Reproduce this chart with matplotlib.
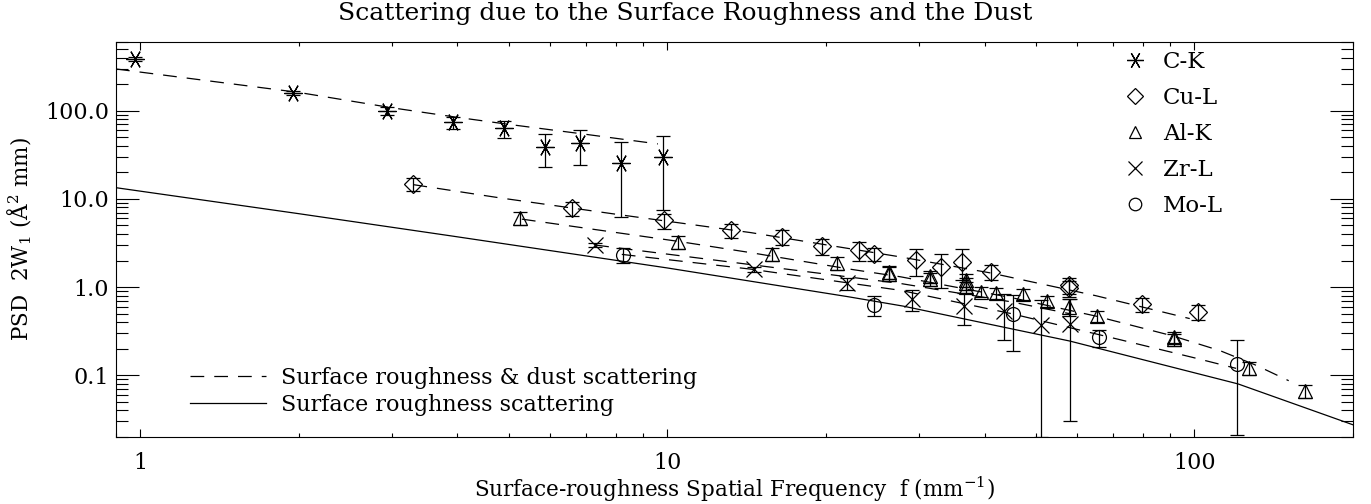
import matplotlib
matplotlib.use('Agg')
import matplotlib.pyplot as plt
from matplotlib.lines import Line2D
from matplotlib.ticker import FixedLocator, FixedFormatter, LogLocator, NullFormatter

plt.rcParams['font.family'] = 'DejaVu Serif'
plt.rcParams['mathtext.fontset'] = 'dejavuserif'

# measured PSD points for each X-ray line: f (mm^-1), PSD (A^2 mm), 1-sigma
ck_f = [0.98, 1.95, 2.94, 3.93, 4.9, 5.87, 6.84, 8.17, 9.8]
ck_psd = [385, 159, 100, 73.6, 63, 38.4, 42.5, 25.3, 29.5]
ck_err = [20, 10, 10, 12, 14, 15.5, 18, 19, 22]

cu_f = [3.3, 6.6, 9.87, 13.2, 16.5, 19.7, 23.1, 24.7, 29.7, 33.0, 36.2, 41.2,
        57.8, 57.8, 79.5, 101.6]
cu_psd = [14.7, 7.8, 5.7, 4.45, 3.7, 2.93, 2.62, 2.36, 2.03, 1.69, 1.95, 1.5,
          0.97, 1.05, 0.64, 0.52]
cu_err = [2.5, 1.4, 1.1, 0.8, 0.7, 0.6, 0.65, 0.4, 0.68, 0.7, 0.75, 0.28,
          0.2, 0.22, 0.12, 0.1]

al_f = [5.26, 10.5, 15.8, 21.0, 26.3, 26.3, 31.5, 31.5, 36.8, 36.8, 36.8, 39.4,
        42.0, 47.3, 52.5, 57.8, 65.5, 91.4, 91.4, 127, 162]
al_psd = [6.1, 3.28, 2.4, 1.88, 1.42, 1.5, 1.23, 1.32, 1.0, 1.1, 1.2, 0.89,
          0.85, 0.83, 0.70, 0.60, 0.47, 0.257, 0.27, 0.122, 0.0666]
al_err = [1.0, 0.55, 0.4, 0.3, 0.25, 0.25, 0.2, 0.2, 0.15, 0.18, 0.2, 0.12,
          0.12, 0.12, 0.1, 0.13, 0.07, 0.04, 0.04, 0.02, 0.011]

zr_f = [7.3, 14.6, 21.9, 29.1, 36.5, 43.6, 51.2, 58.2]
zr_psd = [2.99, 1.6, 1.1, 0.73, 0.61, 0.54, 0.37, 0.38]
zr_err = [0.15, 0.1, 0.18, 0.2, 0.24, 0.29, 0.35, 0.35]

mo_f = [8.25, 24.7, 45.3, 65.8, 120.5]
mo_psd = [2.32, 0.63, 0.50, 0.27, 0.136]
mo_err = [0.43, 0.16, 0.31, 0.06, 0.115]

# roughness + dust model for each line
ck_fit_f = [0.9, 2.0, 3.0, 4.0, 5.0, 7.0, 9.6]
ck_fit = [297, 161, 108, 84, 70, 54, 42]
cu_fit_f = [3.3, 4.8, 8.0, 14.4, 27.7, 41.0, 65.0, 98.0]
cu_fit = [14.5, 10.3, 6.7, 4.15, 2.2, 1.45, 0.8, 0.44]
al_fit_f = [5.3, 10.5, 14.4, 22.2, 27.7, 45.0, 65.0, 91.0, 112.0, 131.0, 151.0]
al_fit = [5.9, 3.3, 2.46, 1.6, 1.31, 0.76, 0.47, 0.28, 0.19, 0.13, 0.087]
zr_fit_f = [7.3, 14.4, 27.7, 45.0, 58.0]
zr_fit = [3.0, 1.8, 1.1, 0.68, 0.5]
mo_fit_f = [8.2, 14.4, 27.7, 45.0, 73.0, 100.0, 120.0]
mo_fit = [2.35, 1.6, 0.92, 0.5, 0.25, 0.158, 0.12]

# roughness-only model
rough_f = [0.9, 2.0, 3.9, 10.0, 22.0, 28.0, 58.0, 121.0, 200.0]
rough_psd = [13.4, 6.8, 3.8, 1.65, 0.78, 0.61, 0.245, 0.08, 0.0275]

DASH = (0, (11, 8))

fig = plt.figure(figsize=(13.71, 5.04), dpi=100)
ax = fig.add_axes([0.0846, 0.1329, 0.9023, 0.7837])
ax.set_xscale('log')
ax.set_yscale('log')
ax.set_xlim(0.9, 200)
ax.set_ylim(0.02, 600)

for ff, pp in [(ck_fit_f, ck_fit), (cu_fit_f, cu_fit), (al_fit_f, al_fit),
               (zr_fit_f, zr_fit), (mo_fit_f, mo_fit)]:
    ax.plot(ff, pp, color='k', lw=0.9, ls=DASH)
ax.plot(rough_f, rough_psd, color='k', lw=0.9)

series = [
    ('C-K', ck_f, ck_psd, ck_err, (6, 2, 30), 13),
    ('Cu-L', cu_f, cu_psd, cu_err, 'D', 9),
    ('Al-K', al_f, al_psd, al_err, '^', 10),
    ('Zr-L', zr_f, zr_psd, zr_err, 'x', 11),
    ('Mo-L', mo_f, mo_psd, mo_err, 'o', 10),
]
handles = []
for label, f, p, e, m, ms in series:
    ax.errorbar(f, p, yerr=e, fmt='none', ecolor='k', elinewidth=0.9,
                capsize=5, capthick=0.9)
    ax.plot(f, p, ls='none', marker=m, ms=ms, mfc='none', mec='k', mew=0.9)
    handles.append(Line2D([], [], ls='none', marker=m, ms=ms - 1,
                          mfc='none', mec='k', mew=0.9, label=label))

leg1 = ax.legend(handles=handles, loc='upper left', bbox_to_anchor=(0.8145, 0.977),
                 frameon=False, fontsize=16.5, handlelength=1.0,
                 handletextpad=0.72, labelspacing=0.61, borderpad=0,
                 borderaxespad=0)
ax.add_artist(leg1)

line_handles = [
    Line2D([], [], color='k', lw=0.9, ls=DASH,
           label='Surface roughness & dust scattering'),
    Line2D([], [], color='k', lw=0.9, label='Surface roughness scattering'),
]
ax.legend(handles=line_handles, loc='lower left', bbox_to_anchor=(0.0598, 0.053),
          frameon=False, fontsize=16, handlelength=3.4, handletextpad=0.7,
          labelspacing=0.25, borderpad=0, borderaxespad=0)

# axis ticks on all four sides, pointing inward
ax.xaxis.set_major_locator(FixedLocator([1, 10, 100]))
ax.xaxis.set_major_formatter(FixedFormatter(['1', '10', '100']))
ax.xaxis.set_minor_locator(LogLocator(base=10, subs=range(2, 10)))
ax.xaxis.set_minor_formatter(NullFormatter())
ax.yaxis.set_major_locator(FixedLocator([0.1, 1, 10, 100]))
ax.yaxis.set_major_formatter(FixedFormatter(['0.1', '1.0', '10.0', '100.0']))
ax.yaxis.set_minor_locator(LogLocator(base=10, subs=range(2, 10)))
ax.yaxis.set_minor_formatter(NullFormatter())

ax.tick_params(axis='both', which='both', direction='in', top=True, right=True,
               width=0.8, colors='k', labelsize=16)
ax.tick_params(axis='y', which='major', length=16.5, pad=5)
ax.tick_params(axis='y', which='minor', length=8.5)
ax.tick_params(axis='x', which='major', length=6, pad=11)
ax.tick_params(axis='x', which='minor', length=3)
for sp in ax.spines.values():
    sp.set_linewidth(0.8)

ax.set_xlabel('Surface-roughness Spatial Frequency  f (mm$^{-1}$)',
              fontsize=15.5, labelpad=0)
ax.set_ylabel('PSD  2W$_1$ (Å$^2$ mm)', fontsize=15.5, labelpad=8)
fig.text(0.5, 0.974, 'Scattering due to the Surface Roughness and the Dust',
         ha='center', va='center', fontsize=18)

fig.savefig('out.png', dpi=100)
